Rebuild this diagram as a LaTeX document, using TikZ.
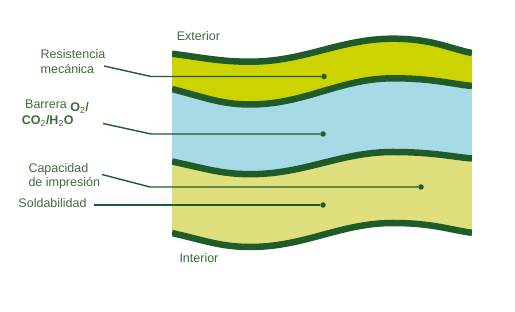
\documentclass[tikz,border=0pt]{standalone}
\usepackage{fontspec}
\setmainfont{Liberation Sans}
\usetikzlibrary{positioning}
\definecolor{bandgreen}{RGB}{31,92,42}
\definecolor{textgreen}{RGB}{62,108,58}
\definecolor{limefill}{RGB}{205,211,0}
\definecolor{bluefill}{RGB}{166,218,230}
\definecolor{palefill}{RGB}{224,223,126}
% one wavy film boundary: left end, lowest, highest, right end
\newcommand{\wavepath}[4]{(172,#1) .. controls (205,{#1+0.55*(#2-#1)}) and (222,#2) .. (250,#2) .. controls (305,#2) and (340,#3) .. (393,#3) .. controls (432,#3) and (450,{#4-0.3*(#4-#3)}) .. (472,#4)}
\tikzset{
  band/.style={draw=bandgreen, line width=6.5pt},
  leader/.style={draw=bandgreen, line width=1.4pt},
  dot/.style={circle, fill=bandgreen, inner sep=0pt, minimum size=5.5pt},
  lbl/.style={text=textgreen, font=\fontsize{12.5}{14.5}\selectfont, align=left, anchor=base west, inner sep=0pt}
}
\begin{document}
\begin{tikzpicture}[x=1pt, y={(0pt,-1pt)}]
    \useasboundingbox (0,0) rectangle (515,312);
    \begin{scope}
        % only the part above the inner face
        \clip \wavepath{233}{247}{223}{232.8} -- (472,0) -- (172,0) -- cycle;
        \fill [limefill] \wavepath{53.7}{61.7}{38.7}{53} -- (472,300) -- (172,300) -- cycle;
        \fill [bluefill] \wavepath{89}{104.5}{78.3}{86} -- (472,300) -- (172,300) -- cycle;
        \fill [palefill] \wavepath{161.5}{174.2}{152}{158.5} -- (472,300) -- (172,300) -- cycle;
    \end{scope}
    \begin{scope}
        \clip (172,0) rectangle (472,300);
        \draw [band] \wavepath{53.7}{61.7}{38.7}{53};
        \draw [band] \wavepath{89}{104.5}{78.3}{86};
        \draw [band] \wavepath{161.5}{174.2}{152}{158.5};
        \draw [band] \wavepath{233}{247}{223}{232.8};
    \end{scope}

    \node [lbl] (exterior) at (176.7,41) {Exterior};
    \node [lbl] (interior) at (179.3,263) {Interior};

    \node [lbl] (resist) at (40.5,73.5) {Resistencia\\mecánica};
    \node [lbl] (barrera) at (21.7,125) {\hspace{3.3pt}Barrera \raisebox{-3pt}{\bfseries O\textsubscript{\mdseries 2}/}\\[1.5pt]{\bfseries CO\textsubscript{\mdseries 2}/H\textsubscript{\mdseries 2}O}};
    \node [lbl] (capacidad) at (28.3,186.7) {Capacidad\\de impresión};
    \node [lbl] (soldab) at (18.3,207.3) {Soldabilidad};

    \node [dot] (resistdot) at (324,76.5) {};
    \node [dot] (barreradot) at (323,134) {};
    \node [dot] (capacidaddot) at (421,187) {};
    \node [dot] (soldabdot) at (323,205) {};

    \coordinate (resistend) at (104,66);
    \coordinate (resistbend) at (151,76.5);
    \coordinate (barreraend) at (103,123.5);
    \coordinate (barrerabend) at (151,134);
    \coordinate (capacidadend) at (102,174.5);
    \coordinate (capacidadbend) at (150,187);
    \coordinate (soldabend) at (94,205);

    \draw [leader] (resistend) -- (resistbend) -- (resistdot);
    \draw [leader] (barreraend) -- (barrerabend) -- (barreradot);
    \draw [leader] (capacidadend) -- (capacidadbend) -- (capacidaddot);
    \draw [leader] (soldabend) -- (soldabdot);
\end{tikzpicture}
\end{document}
